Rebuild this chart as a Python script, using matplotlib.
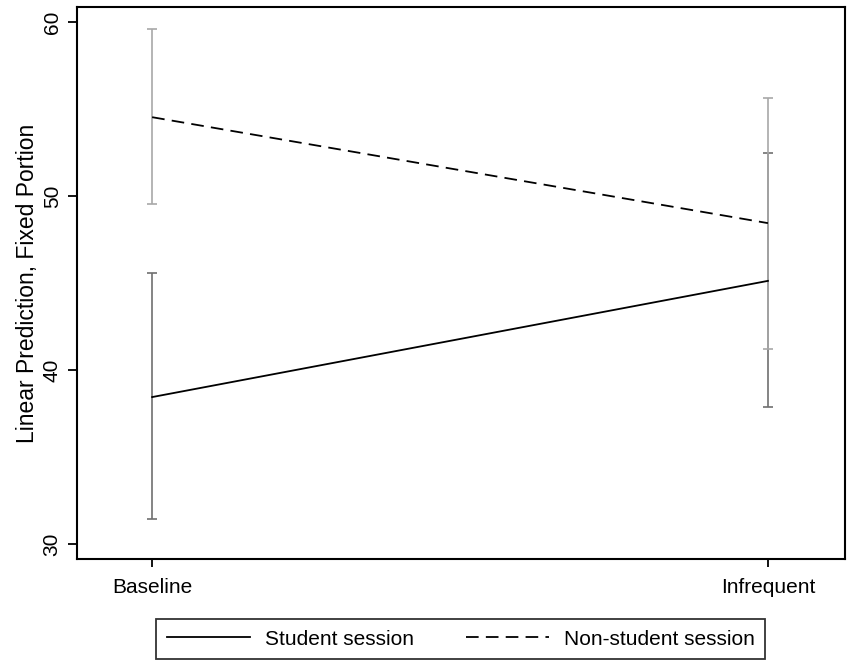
import numpy as np
import matplotlib.pyplot as plt

plt.rcParams['font.family'] = ['Liberation Sans', 'DejaVu Sans']

# predicted means and 95% CIs by session type
conditions = ['Baseline', 'Infrequent']
student_mean = [38.45, 45.13]
student_lo = [31.44, 37.89]
student_hi = [45.57, 52.49]
nonstudent_mean = [54.54, 48.45]
nonstudent_lo = [49.54, 41.22]
nonstudent_hi = [59.60, 55.67]

x = np.arange(len(conditions))

fig = plt.figure(figsize=(8.5, 6.6), dpi=100)
ax = fig.add_axes([0.0906, 0.153, 0.9034, 0.836])

# confidence intervals
ax.errorbar(x, student_mean,
            yerr=[np.subtract(student_mean, student_lo), np.subtract(student_hi, student_mean)],
            fmt='none', ecolor='#707070', elinewidth=1.2, capsize=3.4, capthick=1.2)
ax.errorbar(x, nonstudent_mean,
            yerr=[np.subtract(nonstudent_mean, nonstudent_lo), np.subtract(nonstudent_hi, nonstudent_mean)],
            fmt='none', ecolor='#a8a8a8', elinewidth=1.2, capsize=3.4, capthick=1.2)

# predicted lines
l1, = ax.plot(x, student_mean, color='black', lw=1.3, label='Student session')
l2, = ax.plot(x, nonstudent_mean, color='black', lw=1.3, ls=(0, (7, 4)), label='Non-student session')

ax.set_xlim(-0.122, 1.125)
ax.set_ylim(29.14, 60.86)
ax.set_xticks(x)
ax.set_xticklabels(conditions, fontsize=15)
ax.set_yticks([30, 40, 50, 60])
ax.tick_params(axis='y', labelsize=15, labelrotation=90, length=6.5, width=1.3, pad=4.5)
ax.tick_params(axis='x', length=5.5, width=1.3, pad=8.5)
for lab in ax.get_yticklabels():
    lab.set_va('center')
ax.set_ylabel('Linear Prediction, Fixed Portion', fontsize=16.5, labelpad=3)

for side in ax.spines:
    ax.spines[side].set_linewidth(1.5)

leg = fig.legend(handles=[l1, l2], loc='lower center', bbox_to_anchor=(0.5418, 0.0015),
                 ncol=2, fontsize=15, frameon=True, fancybox=False,
                 edgecolor='black', handlelength=4.0, handletextpad=0.7,
                 columnspacing=2.5, borderpad=0.5, borderaxespad=0)
leg.get_frame().set_linewidth(1.3)

fig.savefig('out.png', dpi=100)
